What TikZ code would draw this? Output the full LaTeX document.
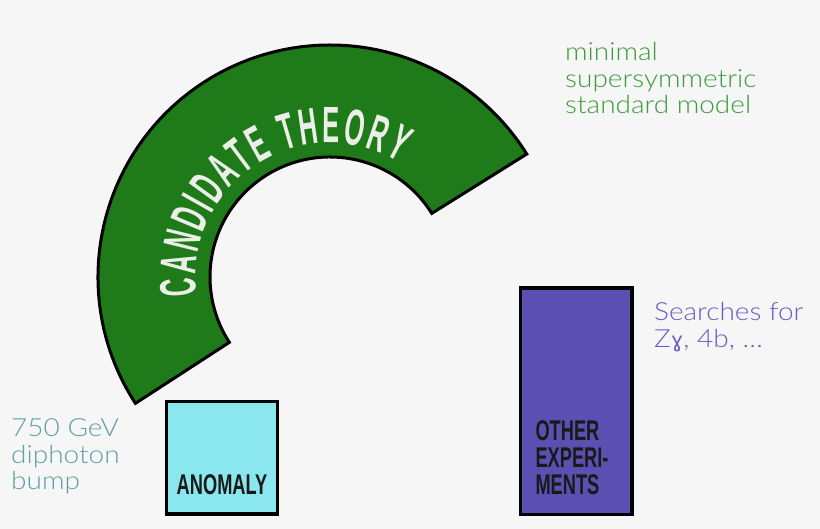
\documentclass[tikz,border=0pt]{standalone}
\usepackage{fontspec}
\usepackage{tikz}
\usetikzlibrary{positioning, calc, decorations.text}
\usepackage{xcolor}
\setmainfont{Lato}
\newfontfamily\labelfont{Lato Light}[FakeStretch=1.12]
\newfontfamily\arcfont{Liberation Sans}[UprightFont=* Bold, FakeStretch=0.5]
\newfontfamily\boxfont{Liberation Sans}[UprightFont=* Bold, FakeStretch=0.64]
\newfontfamily\gammafont{DejaVu Sans}
\definecolor{pagebg}{HTML}{F6F6F6}
\definecolor{theoryfill}{HTML}{1F7A1A}
\definecolor{theorytext}{HTML}{ECEFE8}
\definecolor{anomalyfill}{HTML}{8AE7EE}
\definecolor{otherfill}{HTML}{5B4FB1}
\definecolor{mssmcol}{HTML}{3D9B3A}
\definecolor{bumpcol}{HTML}{5E9FA8}
\definecolor{searchcol}{HTML}{6C5CC2}

\begin{document}
\begin{tikzpicture}[x=1pt, y=1pt,
    box/.style={draw=black, line width=3.2pt, inner sep=0pt},
    boxtext/.style={inner sep=0pt, text=black!90, align=left, font=\boxfont\fontsize{28.5}{27}\selectfont},
    note/.style={inner sep=0pt, anchor=north west, align=left, font=\labelfont\fontsize{25}{26.5}\selectfont}]
    % Fundo
    \fill[pagebg] (0,0) rectangle (820,529);
    \useasboundingbox (0,0) rectangle (820,529);
    % Arco
    \coordinate (c) at (330,252);
    \draw[fill=theoryfill, line width=3pt, line join=miter]
        ($(c)+(213:232)$) arc[start angle=213, end angle=32, radius=232]
        -- ($(c)+(32:120)$) arc[start angle=32, end angle=213, radius=120] -- cycle;
    \path[decorate, decoration={text along path, text align=fit to path, text color=theorytext,
        text={|\arcfont\fontsize{51}{51}\selectfont|CANDIDATE THEORY}}]
        ($(c)+(188:134)$) arc[start angle=188, end angle=59, radius=134];
    % Caixas
    \node[box, fill=anomalyfill, minimum width=111pt, minimum height=112.5pt] (anomaly) at (222,71.2) {};
    \node[boxtext, above=21pt of anomaly.south] (anomalytext) {ANOMALY};
    \node[box, fill=otherfill, minimum width=111.5pt, minimum height=226.7pt] (other) at (576.2,127.7) {};
    \node[boxtext, anchor=south west] (othertext) at ($(other.south west)+(16.5,21.7)$) {OTHER\\EXPERI-\\MENTS};
    % Textos
    \node[note, text=mssmcol] (mssm) at (565,486.5) {minimal\\supersymmetric\\standard model};
    \node[note, text=bumpcol] (bump) at (11,110.5) {750 GeV\\diphoton\\bump};
    \node[note, text=searchcol] (searches) at (654,226.5) {Searches for\\Z{\gammafont\fontsize{21}{26.5}\selectfont ɣ}, 4b, …};
\end{tikzpicture}
\end{document}
